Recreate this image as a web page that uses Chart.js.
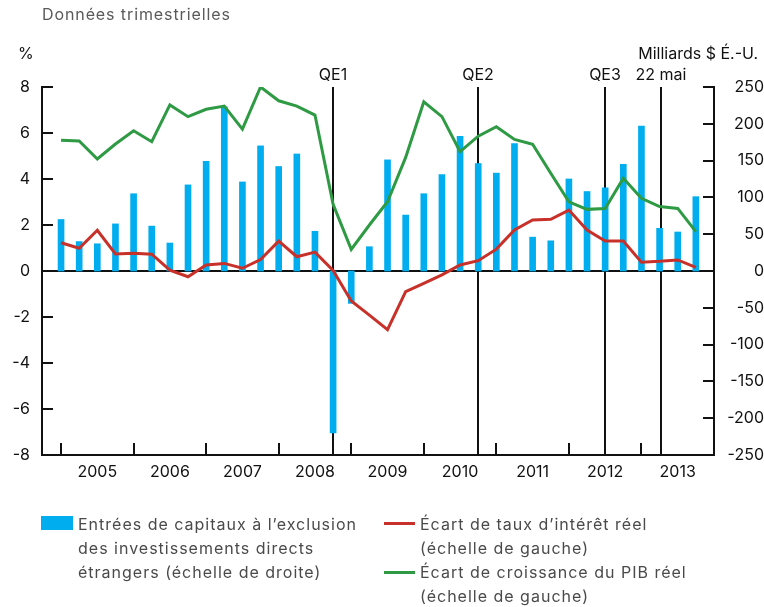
<!DOCTYPE html>
<html lang="fr">
<head>
<meta charset="utf-8">
<title>Entrées de capitaux et écarts</title>
<script src="https://cdn.jsdelivr.net/npm/chart.js@4.4.1/dist/chart.umd.min.js"></script>
<style>
  body { margin: 0; background: #fff; font-family: Inter, "Liberation Sans", sans-serif; }
  #cadre { position: relative; width: 764px; height: 607px; }
  #graphique { position: absolute; left: 0; top: 0; }
  .txt { position: absolute; font-size: 16px; line-height: 24px; white-space: nowrap; color: #111; }
  .titre { color: #5a5a5a; letter-spacing: 0.9px; }
  .legende { color: #4a4a4a; letter-spacing: 1px; }
  .carre { position: absolute; width: 32px; height: 14px; background: #00aeef; }
  .trait { position: absolute; width: 31px; height: 3px; }
</style>
</head>
<body>
<div id="cadre">
  <canvas id="graphique" width="764" height="607"></canvas>
  <div class="txt titre" style="left:42px; top:2px;">Données trimestrielles</div>
  <div class="txt" style="left:18px; top:41px;">%</div>
  <div class="txt" style="right:6px; top:41px;">Milliards $ É.-U.</div>

  <div class="carre" style="left:41px; top:516px;"></div>
  <div class="txt legende" style="left:78px; top:512px;">Entrées de capitaux à l’exclusion<br>des investissements directs<br>étrangers (échelle de droite)</div>
  <div class="trait" style="left:384px; top:522px; background:#c8312a;"></div>
  <div class="txt legende" style="left:420px; top:512px;">Écart de taux d’intérêt réel<br>(échelle de gauche)</div>
  <div class="trait" style="left:384px; top:571px; background:#2e9a43;"></div>
  <div class="txt legende" style="left:420px; top:560px;">Écart de croissance du PIB réel<br>(échelle de gauche)</div>
</div>

<script>
// === Données trimestrielles, 2005T1 à 2013T4 ===
const annees = ["2005", "2006", "2007", "2008", "2009", "2010", "2011", "2012", "2013"];
const trimestres = annees.flatMap(a => ["T1", "T2", "T3", "T4"].map(t => a + t));

// Entrées de capitaux hors IDE (milliards $ É.-U., échelle de droite)
const entreesCapitaux = [70, 40, 37, 64, 105, 61, 38, 117, 149, 223, 121, 170,
  142, 159, 54, -220, -44, 33, 151, 76, 105, 131, 183, 146,
  133, 173, 46, 41, 125, 108, 113, 145, 197, 58, 53, 101];

// Écart de taux d'intérêt réel (%, échelle de gauche)
const ecartTaux = [1.23, 0.99, 1.77, 0.74, 0.77, 0.73, 0.04, -0.25, 0.26, 0.33, 0.12, 0.50,
  1.30, 0.62, 0.82, 0.02, -1.30, -1.92, -2.55, -0.90, -0.54, -0.17, 0.26, 0.45,
  0.95, 1.78, 2.22, 2.25, 2.65, 1.78, 1.30, 1.30, 0.38, 0.42, 0.48, 0.16];

// Écart de croissance du PIB réel (%, échelle de gauche)
const ecartPib = [5.68, 5.65, 4.87, 5.52, 6.10, 5.62, 7.22, 6.71, 7.03, 7.17, 6.17, 8.00,
  7.40, 7.17, 6.78, 2.90, 0.94, 2.00, 3.01, 4.94, 7.36, 6.71, 5.19, 5.86,
  6.27, 5.72, 5.51, 4.25, 3.01, 2.68, 2.72, 4.03, 3.16, 2.80, 2.72, 1.71];

// Événements (position en trimestres depuis 2005T1)
const evenements = ["QE1", "QE2", "QE3", "22 mai"];
const evenementsPos = [15, 23, 30, 33.1];

// Graduations des axes
const ticksGauche = [-8, -6, -4, -2, 0, 2, 4, 6, 8];
const ticksDroite = [-250, -200, -150, -100, -50, 0, 50, 100, 150, 200, 250];

const couleurs = {
  bleu: "#00aeef",
  rouge: "#c8312a",
  vert: "#2e9a43",
  noir: "#111111"
};

// points {x, y} sur l'axe linéaire des trimestres
const enPoints = serie => serie.map((v, i) => ({ x: i, y: v }));

// === Lignes verticales, ligne du zéro et graduations intérieures ===
const reperes = {
  id: "reperes",
  beforeDatasetsDraw(chart) {
    const { ctx, chartArea: a, scales } = chart;
    ctx.save();
    ctx.strokeStyle = couleurs.noir;
    ctx.lineWidth = 2;

    const y0 = Math.round(scales.yG.getPixelForValue(0));
    ctx.beginPath();
    ctx.moveTo(a.left, y0);
    ctx.lineTo(a.right, y0);
    ctx.stroke();

    ctx.fillStyle = couleurs.noir;
    ctx.font = "16px Inter, 'Liberation Sans', sans-serif";
    ctx.textAlign = "center";
    ctx.textBaseline = "middle";
    evenementsPos.forEach((v, i) => {
      const px = Math.round(scales.x.getPixelForValue(v));
      ctx.beginPath();
      ctx.moveTo(px, a.top);
      ctx.lineTo(px, a.bottom);
      ctx.stroke();
      ctx.fillText(evenements[i], px, a.top - 12);
    });
    ctx.restore();
  },
  afterDraw(chart) {
    const { ctx, chartArea: a, scales } = chart;
    ctx.save();
    ctx.strokeStyle = couleurs.noir;
    ctx.lineWidth = 2;
    ctx.beginPath();
    ticksGauche.forEach(v => {
      const py = Math.round(scales.yG.getPixelForValue(v));
      ctx.moveTo(a.left, py);
      ctx.lineTo(a.left + 11, py);
    });
    ticksDroite.forEach(v => {
      const py = Math.round(scales.yD.getPixelForValue(v));
      ctx.moveTo(a.right - 11, py);
      ctx.lineTo(a.right, py);
    });
    annees.forEach((_, k) => {
      const px = Math.round(scales.x.getPixelForValue(4 * k));
      ctx.moveTo(px, a.bottom);
      ctx.lineTo(px, a.bottom - 12);
    });
    ctx.stroke();
    ctx.restore();
  }
};

Chart.defaults.font.family = "Inter, 'Liberation Sans', sans-serif";
Chart.defaults.font.size = 16;
Chart.defaults.color = couleurs.noir;

new Chart(document.getElementById("graphique"), {
  data: {
    datasets: [
      {
        type: "line",
        label: "Écart de taux d’intérêt réel",
        data: enPoints(ecartTaux),
        yAxisID: "yG",
        borderColor: couleurs.rouge,
        borderWidth: 3,
        pointRadius: 0,
        tension: 0,
        order: 1
      },
      {
        type: "line",
        label: "Écart de croissance du PIB réel",
        data: enPoints(ecartPib),
        yAxisID: "yG",
        borderColor: couleurs.vert,
        borderWidth: 3,
        pointRadius: 0,
        tension: 0,
        order: 2
      },
      {
        type: "bar",
        label: "Entrées de capitaux",
        data: enPoints(entreesCapitaux),
        yAxisID: "yD",
        backgroundColor: couleurs.bleu,
        barThickness: 6,
        order: 3
      }
    ]
  },
  options: {
    responsive: false,
    animation: false,
    layout: { padding: { top: 87, left: 0, right: 0, bottom: 0 } },
    plugins: {
      legend: { display: false },
      tooltip: { enabled: false }
    },
    scales: {
      x: {
        type: "linear",
        min: -1.05,
        max: 36,
        offset: false,
        grid: { display: false, drawTicks: false, offset: false },
        border: { display: true, color: couleurs.noir, width: 2 },
        afterBuildTicks: s => { s.ticks = annees.map((_, k) => ({ value: 4 * k + 2 })); },
        afterFit: s => { s.height = 152; },
        ticks: {
          autoSkip: false,
          maxRotation: 0,
          padding: 8,
          callback: (v, i) => annees[i]
        }
      },
      yG: {
        type: "linear",
        position: "left",
        min: -8,
        max: 8,
        grid: { display: false, drawTicks: false },
        border: { display: true, color: couleurs.noir, width: 2 },
        afterBuildTicks: s => { s.ticks = ticksGauche.map(v => ({ value: v })); },
        afterFit: s => { s.width = 42; },
        ticks: { padding: 12 }
      },
      yD: {
        type: "linear",
        position: "right",
        min: -250,
        max: 250,
        grid: { display: false, drawTicks: false },
        border: { display: true, color: couleurs.noir, width: 2 },
        afterBuildTicks: s => { s.ticks = ticksDroite.map(v => ({ value: v })); },
        afterFit: s => { s.width = 50; },
        ticks: { crossAlign: "far", padding: 10 }
      }
    }
  },
  plugins: [reperes]
});
</script>
</body>
</html>
